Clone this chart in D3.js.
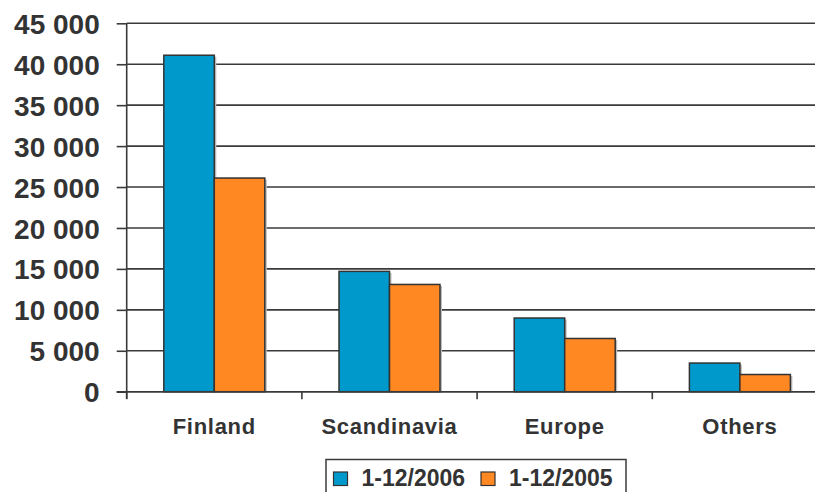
<!DOCTYPE html>
<html>
<head>
<meta charset="utf-8">
<script src="https://cdn.jsdelivr.net/npm/d3@7"></script>
<style>
  html, body { margin: 0; padding: 0; background: #fff; }
  svg { display: block; }
  text { font-family: Arial, "Liberation Sans", sans-serif; font-weight: bold; fill: #333; }
</style>
</head>
<body>
<svg id="chart" width="815" height="492"></svg>
<script>
// Categories and series
const categories = ["Finland", "Scandinavia", "Europe", "Others"];
const seriesNames = ["1-12/2006", "1-12/2005"];
const values2006 = [41100, 14700, 9000, 3500];
const values2005 = [26100, 13100, 6500, 2100];
const yTicks = [0, 5000, 10000, 15000, 20000, 25000, 30000, 35000, 40000, 45000];
const seriesColors = ["#0099CC", "#FF8822"];

const seriesValues = [values2006, values2005];
const rows = categories.map((c, i) => ({
  category: c,
  bars: seriesNames.map((s, j) => ({ series: s, value: seriesValues[j][i], color: seriesColors[j] }))
}));

const svg = d3.select("#chart");
const plotLeft = 126.7, plotRight = 827.5, plotTop = 23.3, plotBottom = 391.7;

const x0 = d3.scaleBand().domain(categories).range([plotLeft, plotRight]).padding(0);
const x1 = d3.scaleBand().domain(seriesNames).range([0, x0.bandwidth()])
  .paddingInner(0).paddingOuter(0.735);
const y = d3.scaleLinear().domain([0, 45000]).range([plotBottom, plotTop]);

const fmt = v => d3.format(",")(v).replace(/,/g, " ");

// Horizontal gridlines
svg.append("g")
  .selectAll("line")
  .data(yTicks)
  .join("line")
  .attr("x1", plotLeft).attr("x2", plotRight)
  .attr("y1", d => y(d)).attr("y2", d => y(d))
  .attr("stroke", "#3a3a3a").attr("stroke-width", 1.6);

// Y axis
const yAxis = svg.append("g")
  .attr("transform", `translate(${plotLeft},0)`)
  .call(d3.axisLeft(y).tickValues(yTicks).tickFormat(fmt).tickSize(10).tickPadding(17));
yAxis.select(".domain").attr("stroke", "#3a3a3a").attr("stroke-width", 1.6)
  .attr("d", `M0,${plotTop}V${plotBottom + 7}`);
yAxis.selectAll(".tick line").attr("stroke", "#3a3a3a").attr("stroke-width", 1.6);
yAxis.selectAll(".tick text")
  .style("font-size", "28px").style("font-family", "Arial, 'Liberation Sans', sans-serif")
  .style("font-weight", "bold").attr("fill", "#333").attr("dy", "0.36em");

// Bars with a soft drop shadow
const groups = svg.append("g")
  .selectAll("g")
  .data(rows)
  .join("g")
  .attr("transform", d => `translate(${x0(d.category)},0)`);

groups.selectAll("rect.shadow")
  .data(d => d.bars)
  .join("rect")
  .attr("class", "shadow")
  .attr("x", d => x1(d.series) + 2)
  .attr("y", d => y(d.value) + 1.5)
  .attr("width", x1.bandwidth())
  .attr("height", d => plotBottom - y(d.value) - 1.5)
  .attr("fill", "#bdbdbd");

groups.selectAll("rect.bar")
  .data(d => d.bars)
  .join("rect")
  .attr("class", "bar")
  .attr("x", d => x1(d.series))
  .attr("y", d => y(d.value))
  .attr("width", x1.bandwidth())
  .attr("height", d => plotBottom - y(d.value))
  .attr("fill", d => d.color)
  .attr("stroke", "#333")
  .attr("stroke-width", 1.5);

// X axis: ticks at category boundaries, labels centred in each band
const xAxisG = svg.append("g");
xAxisG.append("line")
  .attr("x1", plotLeft - 10).attr("x2", plotRight)
  .attr("y1", plotBottom).attr("y2", plotBottom)
  .attr("stroke", "#3a3a3a").attr("stroke-width", 1.6);
xAxisG.selectAll("line.tick")
  .data(categories)
  .join("line")
  .attr("class", "tick")
  .attr("x1", d => x0(d)).attr("x2", d => x0(d))
  .attr("y1", plotBottom).attr("y2", plotBottom + 7.5)
  .attr("stroke", "#3a3a3a").attr("stroke-width", 1.6);
xAxisG.selectAll("text")
  .data(categories)
  .join("text")
  .attr("x", d => x0(d) + x0.bandwidth() / 2)
  .attr("y", 433.5)
  .attr("text-anchor", "middle")
  .style("font-size", "22px")
  .style("letter-spacing", "0.7px")
  .text(d => d);

// Legend
const legend = svg.append("g");
legend.append("rect")
  .attr("x", 326).attr("y", 459.5).attr("width", 300).attr("height", 40)
  .attr("fill", "#fff").attr("stroke", "#3a3a3a").attr("stroke-width", 1.5);
const legendX = [333.5, 481];
const items = legend.selectAll("g")
  .data(seriesNames)
  .join("g")
  .attr("transform", (d, i) => `translate(${legendX[i]},0)`);
items.append("rect")
  .attr("x", 0).attr("y", 472).attr("width", 14).attr("height", 13.5)
  .attr("fill", (d, i) => seriesColors[i]).attr("stroke", "#333").attr("stroke-width", 1.2);
items.append("text")
  .attr("x", 28).attr("y", 485.5)
  .style("font-size", "23px")
  .text(d => d);
</script>
</body>
</html>
